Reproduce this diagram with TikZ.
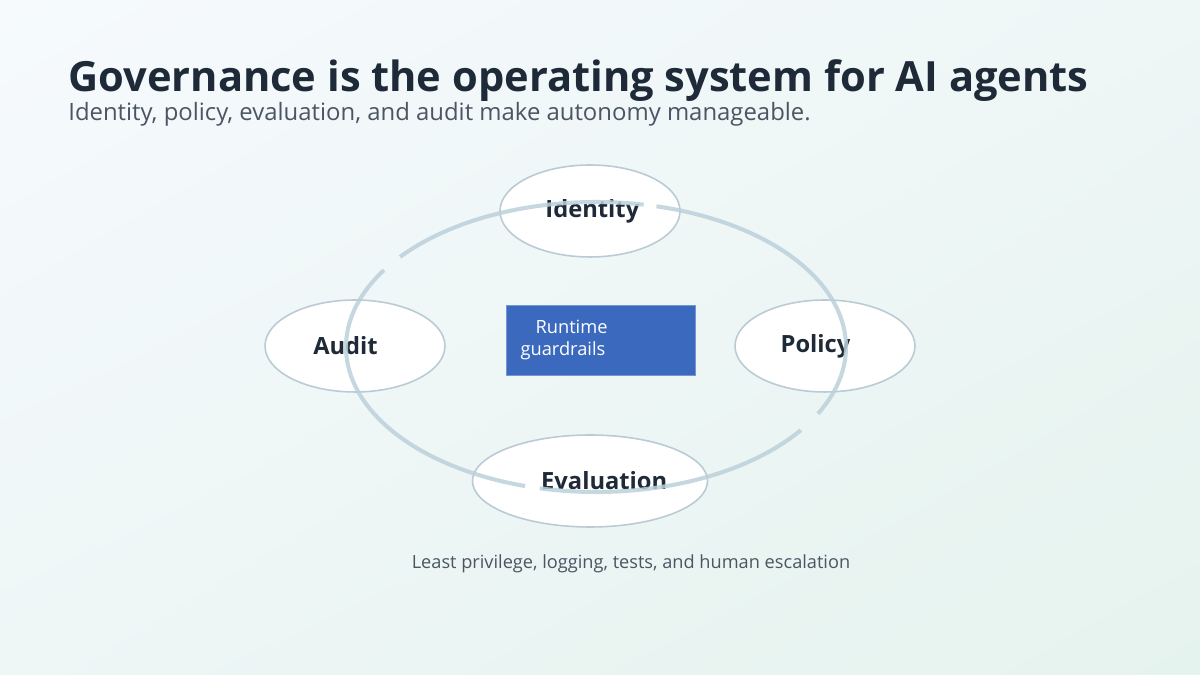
\documentclass[tikz,border=0pt]{standalone}
\usepackage{fontspec}
\setmainfont{Open Sans}
\usetikzlibrary{positioning,shapes.geometric,shadings}
\definecolor{ink}{HTML}{1E2A38}
\definecolor{subink}{HTML}{4B5563}
\definecolor{ring}{HTML}{BCD0DA}
\definecolor{rim}{HTML}{BACBD5}
\definecolor{guard}{HTML}{3B69BE}
\definecolor{bgA}{HTML}{F6FAFD}
\definecolor{bgM}{HTML}{EEF6F6}
\definecolor{bgB}{HTML}{E5F3EE}
\tikzset{
  pillar/.style={draw=rim, line width=0.9pt, fill=white, ellipse, minimum width=3.6cm, minimum height=1.84cm, font=\fontsize{13.5}{16}\selectfont\bfseries, text=ink},
}
\begin{document}
\begin{tikzpicture}[x=0.02cm,y=0.02cm]
\useasboundingbox (0,0) rectangle (1200,675);
\shade[upper left=bgA, lower right=bgB, upper right=bgM, lower left=bgM] (0,0) rectangle (1200,675);

% title
\node[anchor=base west, inner sep=0, font=\fontsize{23.7}{28}\selectfont\bfseries, text=ink] (title) at (68,583) {Governance is the operating system for AI agents};
\node[anchor=base west, inner sep=0, font=\fontsize{13.6}{16}\selectfont, text=subink] (sub) at (68,554) {Identity, policy, evaluation, and audit make autonomy manageable.};

% pillars
\node[pillar] (identity) at (590,464) {\hspace{0.2em}\raisebox{-2pt}{Identity}\hspace{-0.2em}};
\node[pillar] (audit) at (355,329) {\hspace{-0.8em}\raisebox{-2pt}{Audit}\hspace{0.8em}};
\node[pillar] (policy) at (825,329) {\hspace{-0.8em}\raisebox{-2pt}{Policy}\hspace{0.8em}};
\node[pillar] (evaluation) at (590,194) {\hspace{1.2em}\raisebox{-2pt}{Evaluation}\hspace{-1.2em}};

% centre
\node[fill=guard, draw=guard!70!white, minimum width=3.78cm, minimum height=1.4cm, text=white, font=\fontsize{10.4}{12}\selectfont, align=left, text width=3.2cm, inner xsep=0pt] (core) at (600.5,335) {\hspace*{0.3cm}Runtime guardrails};

% ring
\begin{scope}[ring, line width=2.3pt, opacity=0.85]
\draw (596,328) ++(79:250 and 145) arc[start angle=79, end angle=141.6, x radius=250, y radius=145];
\draw (596,328) ++(148:250 and 145) arc[start angle=148, end angle=253.5, x radius=250, y radius=145];
\draw (596,328) ++(257:250 and 145) arc[start angle=257, end angle=325, x radius=250, y radius=145];
\draw (596,328) ++(332.6:250 and 145) arc[start angle=332.6, end angle=436, x radius=250, y radius=145];
\end{scope}

\node[font=\fontsize{10.35}{12}\selectfont, text=subink] (note) at (631,111) {Least privilege, logging, tests, and human escalation};
\end{tikzpicture}
\end{document}
